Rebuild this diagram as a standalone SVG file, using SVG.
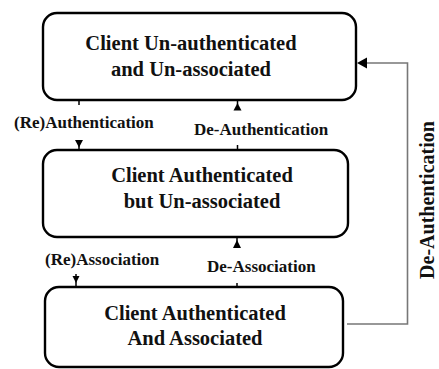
<svg xmlns="http://www.w3.org/2000/svg" width="439" height="369" viewBox="0 0 439 369">
<style>
.box{fill:#fff;stroke:#000;stroke-width:2.4}
.bt{font-family:"Liberation Serif","Times New Roman",serif;font-weight:bold;font-size:20.5px;fill:#111;text-anchor:middle}
.lb{font-family:"Liberation Serif","Times New Roman",serif;font-weight:bold;font-size:17px;fill:#111}
.ln{stroke:#000;stroke-width:1.5;fill:none}
.gr{stroke:#777;stroke-width:1.6;fill:none}
.ah{fill:#000}
</style>
<rect width="439" height="369" fill="#fff"/>
<g id="connectors">
  <line class="ln" x1="79" y1="100" x2="79" y2="105"/>
  <line class="ln" x1="79" y1="145" x2="79" y2="150"/>
  <polygon class="ah" points="75,140 83,140 79,147.5"/>
  <line class="ln" x1="237.5" y1="145" x2="237.5" y2="150"/>
  <line class="ln" x1="237.5" y1="100" x2="237.5" y2="105"/>
  <polygon class="ah" points="233.5,110.5 241.5,110.5 237.5,103"/>
  <line class="ln" x1="76" y1="274" x2="76" y2="287"/>
  <polygon class="ah" points="72.5,276 79.5,276 76,283"/>
  <line class="ln" x1="237" y1="283" x2="237" y2="287"/>
  <line class="ln" x1="237" y1="237" x2="237" y2="242"/>
  <polygon class="ah" points="233,248 241,248 237,240"/>
  <polyline class="gr" points="347,324 407.5,324 407.5,63 366,63"/>
  <polygon class="ah" points="357,63 367,57.5 367,68.5"/>
</g>
<g id="node-unauth">
  <rect class="box" x="43" y="13" width="313" height="87" rx="14"/>
  <text class="bt" x="191" y="50">Client Un-authenticated</text>
  <text class="bt" x="191" y="76">and Un-associated</text>
</g>
<g id="node-auth">
  <rect class="box" x="43" y="150" width="305" height="87" rx="14"/>
  <text class="bt" x="202" y="182">Client Authenticated</text>
  <text class="bt" x="202" y="208">but Un-associated</text>
</g>
<g id="node-assoc">
  <rect class="box" x="45" y="287" width="298" height="80" rx="14"/>
  <text class="bt" x="195" y="320">Client Authenticated</text>
  <text class="bt" x="195" y="345">And Associated</text>
</g>
<g id="labels">
  <text class="lb" x="14" y="128">(Re)Authentication</text>
  <text class="lb" x="194" y="135">De-Authentication</text>
  <text class="lb" x="45" y="265">(Re)Association</text>
  <text class="lb" x="207" y="272">De-Association</text>
  <text class="lb" style="font-size:20px;text-anchor:middle" transform="translate(434,200) rotate(-90)">De-Authentication</text>
</g>
</svg>
